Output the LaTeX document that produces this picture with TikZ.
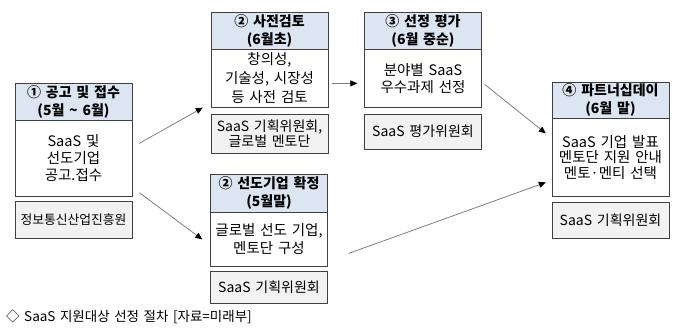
\documentclass[tikz,border=0pt]{standalone}
\usepackage{fontspec}
\setmainfont{Noto Sans CJK KR}[WordSpace=1.5]
\usetikzlibrary{arrows.meta,positioning}
\definecolor{fcInk}{HTML}{404040}
\definecolor{fcHead}{HTML}{DCE6F2}
\definecolor{fcFoot}{HTML}{F2F2F2}
\definecolor{fcLine}{HTML}{7F7F7F}
\tikzset{
  hdr/.style={draw=fcInk, fill=fcHead, minimum width=117pt, minimum height=37pt, inner sep=1pt, font=\fontsize{14}{18}\selectfont\bfseries, align=center},
  bdy/.style={draw=fcInk, fill=white, minimum width=117pt, inner sep=1pt, font=\fontsize{14.5}{17}\selectfont, align=center},
  ftr/.style={draw=fcInk, fill=fcFoot, minimum width=117pt, inner sep=1pt, font=\fontsize{14}{15}\selectfont, align=center},
  arr/.style={-{Triangle[length=7pt,width=6pt,color=black]}, draw=fcLine, line width=0.8pt},
}
\begin{document}
\begin{tikzpicture}[x=1pt, y=-1pt, node distance=5pt]
  \useasboundingbox (0,0) rectangle (680,332);
  % 1: 공고 및 접수
  \node[hdr] (h1) at (73.5,101.5) {① 공고 및 접수\\(5월 \textasciitilde\ 6월)};
  \node[bdy, minimum height=76pt, below=0pt of h1] (b1) {SaaS 및\\선도기업\\공고.접수};
  \node[ftr, minimum height=37pt, below=4pt of b1, font=\fontsize{12.8}{15}\selectfont] (f1) {정보통신산업진흥원};
  % 2: 사전검토
  \node[hdr] (h2) at (269.5,30.5) {② 사전검토\\(6월초)};
  \node[bdy, minimum height=58pt, below=0pt of h2, font=\fontsize{14.5}{19}\selectfont] (b2) {창의성,\\기술성, 시장성\\등 사전 검토};
  \node[ftr, minimum height=39pt, below=6pt of b2] (f2) {SaaS 기획위원회,\\글로벌 멘토단};
  % 3: 선정 평가
  \node[hdr] (h3) at (423,30.5) {③ 선정 평가\\(6월 중순)};
  \node[bdy, minimum height=58pt, below=0pt of h3] (b3) {분야별 SaaS\\우수과제 선정};
  \node[ftr, minimum height=35pt, below=6pt of b3] (f3) {SaaS 평가위원회};
  % 2: 선도기업 확정
  \node[hdr, minimum height=38pt] (h5) at (269,193) {② 선도기업 확정\\(5월말)};
  \node[bdy, minimum height=54pt, below=0pt of h5, font=\fontsize{14.5}{18}\selectfont] (b5) {글로벌 선도 기업,\\멘토단 구성};
  \node[ftr, minimum height=32pt, below=4pt of b5] (f5) {SaaS 기획위원회};
  % 4: 파트너십데이
  \node[hdr, minimum height=36pt] (h4) at (610.5,100) {④ 파트너십데이\\(6월 말)};
  \node[bdy, minimum height=78pt, below=0pt of h4, font=\fontsize{14.5}{15.5}\selectfont] (b4) {SaaS 기업 발표\\멘토단 지원 안내\\멘토·멘티 선택};
  \node[ftr, minimum height=36pt, below=5pt of b4] (f4) {SaaS 기획위원회};
  % 흐름
  \draw[arr] ([xshift=7pt,yshift=15pt]b1.east) -- ([xshift=-8pt]b2.south west);
  \draw[arr] ([xshift=7pt,yshift=4pt]b1.south east) -- ([xshift=-8pt]b5.west);
  \draw[arr] ([xshift=4pt,yshift=-5pt]b2.east) -- ([xshift=-7pt,yshift=-5pt]b3.west);
  \draw[arr] ([xshift=3pt,yshift=-6pt]b3.east) -- ([xshift=-6pt,yshift=24pt]b4.west);
  \draw[arr] ([xshift=21pt,yshift=-14pt]b5.east) -- ([xshift=-6pt,yshift=-25pt]b4.west);
  % 캡션
  \node[anchor=west, inner sep=0pt, font=\fontsize{13.5}{15}\selectfont] (cap) at (6,317) {◇ SaaS 지원대상 선정 절차 [자료=미래부]};
\end{tikzpicture}
\end{document}
